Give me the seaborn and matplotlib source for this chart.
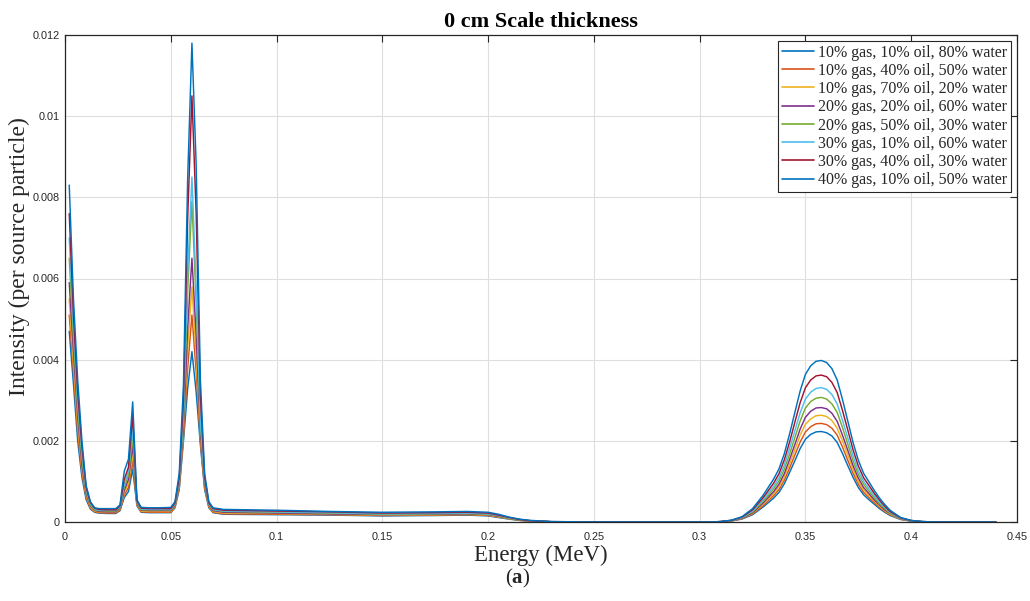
import matplotlib
matplotlib.use("Agg")
import matplotlib.pyplot as plt
import seaborn as sns
import pandas as pd

# ---------------- data (intensity values in units of 1e-4 per source particle) ----------------
UNIT = 1e-4

ENERGY = [0.002, 0.004, 0.006, 0.008, 0.010, 0.012, 0.014, 0.016, 0.020, 0.024,
          0.026, 0.028, 0.030, 0.032, 0.034, 0.036, 0.040, 0.045, 0.050,
          0.052, 0.054, 0.056, 0.058, 0.060, 0.062, 0.064, 0.066, 0.068, 0.070,
          0.075, 0.100, 0.125, 0.150, 0.175, 0.190, 0.200, 0.205, 0.210, 0.215, 0.220, 0.230, 0.250, 0.300, 0.305,
          0.310, 0.315, 0.320, 0.325, 0.330, 0.3325, 0.335, 0.3375, 0.340, 0.3425, 0.345, 0.3475,
          0.350, 0.3525, 0.355, 0.3575, 0.360, 0.3625, 0.365, 0.3675, 0.370, 0.3725, 0.375, 0.3775,
          0.380, 0.3825, 0.385, 0.3875, 0.390, 0.395, 0.400, 0.405, 0.410,
          0.420, 0.440]

LABELS = ["10% gas, 10% oil, 80% water",
          "10% gas, 40% oil, 50% water",
          "10% gas, 70% oil, 20% water",
          "20% gas, 20% oil, 60% water",
          "20% gas, 50% oil, 30% water",
          "30% gas, 10% oil, 60% water",
          "30% gas, 40% oil, 30% water",
          "40% gas, 10% oil, 50% water"]

S1 = [47, 34, 20, 11, 5.5, 3.2, 2.4, 2.2, 2.1, 2.1,
      2.8, 6.0, 7.5, 13, 4.0, 2.4, 2.3, 2.3, 2.3,
      3.5, 8, 20, 33, 42, 32, 19, 8, 3.5, 2.3,
      1.9, 1.8, 1.7, 1.5, 1.6, 1.7, 1.5, 1.1, 0.7, 0.4, 0.2, 0.05, 0.02, 0, 0,
      0.07, 0.25, 0.73, 1.8, 3.7, 4.8, 5.9, 7.3, 9.4, 12.2, 15.1, 18.1,
      20.4, 21.6, 22.2, 22.3, 22.0, 21.2, 19.6, 16.9, 13.9, 11.0, 8.5, 6.7,
      5.5, 4.4, 3.3, 2.4, 1.6, 0.62, 0.22, 0.07, 0.02,
      0, 0]
S2 = [51, 37, 22, 12, 6, 3.4, 2.5, 2.3, 2.2, 2.2,
      3.0, 6.6, 8.5, 15, 4.2, 2.5, 2.4, 2.4, 2.4,
      3.7, 8.5, 21, 38, 51, 37, 20, 8.5, 3.7, 2.4,
      2.0, 1.9, 1.8, 1.6, 1.7, 1.8, 1.6, 1.2, 0.8, 0.4, 0.2, 0.05, 0.02, 0, 0,
      0.07, 0.27, 0.8, 2.0, 4.0, 5.3, 6.5, 8.0, 10.3, 13.3, 16.5, 19.7,
      22.2, 23.5, 24.2, 24.3, 24.0, 23.1, 21.4, 18.5, 15.2, 12.0, 9.3, 7.3,
      6.0, 4.8, 3.6, 2.6, 1.8, 0.67, 0.24, 0.07, 0.02,
      0, 0]
S3 = [55, 39, 24, 13, 6.5, 3.7, 2.7, 2.5, 2.4, 2.4,
      3.2, 7.2, 9.5, 17, 4.4, 2.7, 2.6, 2.6, 2.6,
      3.9, 9, 22, 43, 58, 41, 21, 9, 3.9, 2.6,
      2.2, 2.1, 1.9, 1.7, 1.8, 1.9, 1.7, 1.3, 0.8, 0.5, 0.2, 0.06, 0.02, 0, 0,
      0.08, 0.3, 0.86, 2.2, 4.4, 5.7, 7.0, 8.7, 11.1, 14.3, 17.8, 21.4,
      24.1, 25.4, 26.2, 26.3, 26.0, 25.0, 23.1, 20.0, 16.5, 13.0, 10.0, 7.9,
      6.5, 5.2, 3.9, 2.8, 1.9, 0.73, 0.26, 0.08, 0.02,
      0, 0]
S4 = [59, 42, 26, 14, 7, 4.0, 2.9, 2.6, 2.5, 2.5,
      3.4, 7.8, 10.5, 19, 4.6, 2.9, 2.8, 2.8, 2.8,
      4.1, 9.5, 23, 48, 65, 46, 22, 9.5, 4.1, 2.8,
      2.4, 2.2, 2.0, 1.8, 1.9, 2.0, 1.8, 1.4, 0.9, 0.5, 0.3, 0.06, 0.02, 0, 0,
      0.09, 0.32, 0.9, 2.3, 4.7, 6.1, 7.5, 9.3, 11.9, 15.4, 19.1, 22.9,
      25.8, 27.3, 28.1, 28.2, 27.9, 26.8, 24.8, 21.4, 17.7, 13.9, 10.8, 8.5,
      7.0, 5.5, 4.2, 3.0, 2.1, 0.8, 0.28, 0.09, 0.02,
      0, 0]
S5 = [65, 45, 28, 15.5, 7.5, 4.2, 3.0, 2.8, 2.7, 2.7,
      3.6, 8.6, 11.5, 21, 4.8, 3.0, 3.0, 3.0, 3.0,
      4.3, 10, 25, 57, 79, 54, 24, 10, 4.3, 3.0,
      2.6, 2.4, 2.2, 1.9, 2.0, 2.1, 1.9, 1.5, 0.9, 0.5, 0.3, 0.07, 0.02, 0, 0,
      0.09, 0.35, 1.0, 2.5, 5.1, 6.6, 8.2, 10.1, 13.0, 16.7, 20.8, 24.9,
      28.1, 29.7, 30.5, 30.7, 30.3, 29.1, 27.0, 23.3, 19.2, 15.1, 11.7, 9.3,
      7.6, 6.0, 4.5, 3.3, 2.2, 0.85, 0.31, 0.09, 0.02,
      0, 0]
S6 = [70, 48, 30, 17, 8, 4.5, 3.2, 2.9, 2.9, 2.9,
      3.8, 9.4, 12.5, 23, 5.0, 3.2, 3.1, 3.1, 3.1,
      4.5, 10.5, 27, 62, 85, 58, 25, 10.5, 4.5, 3.1,
      2.7, 2.5, 2.3, 2.0, 2.1, 2.2, 2.0, 1.6, 1.0, 0.6, 0.3, 0.08, 0.02, 0, 0,
      0.1, 0.37, 1.1, 2.7, 5.5, 7.2, 8.8, 10.9, 14.0, 18.1, 22.5, 26.9,
      30.3, 32.0, 32.9, 33.1, 32.7, 31.4, 29.1, 25.1, 20.7, 16.3, 12.6, 10.0,
      8.2, 6.5, 4.9, 3.6, 2.4, 0.9, 0.33, 0.1, 0.02,
      0, 0]
S7 = [76, 51, 32, 18.5, 8.5, 4.8, 3.4, 3.1, 3.0, 3.0,
      4.0, 10.5, 13.5, 26.3, 5.2, 3.4, 3.3, 3.3, 3.3,
      4.7, 11, 30, 75, 105, 76, 31, 11, 4.7, 3.3,
      2.9, 2.7, 2.5, 2.2, 2.3, 2.4, 2.2, 1.7, 1.1, 0.6, 0.3, 0.09, 0.02, 0, 0,
      0.11, 0.41, 1.2, 3.0, 6.0, 7.8, 9.6, 11.9, 15.3, 19.7, 24.6, 29.4,
      33.1, 35.0, 36.0, 36.2, 35.8, 34.4, 31.9, 27.5, 22.7, 17.8, 13.8, 10.9,
      9.0, 7.1, 5.4, 3.9, 2.6, 1.0, 0.36, 0.11, 0.03,
      0, 0]
S8 = [83, 55, 35, 20, 9, 5.0, 3.5, 3.3, 3.3, 3.3,
      4.2, 12.5, 15.5, 29.6, 5.5, 3.6, 3.5, 3.5, 3.6,
      5.0, 12, 34, 85, 118, 88, 35, 12, 5.0, 3.5,
      3.1, 2.9, 2.6, 2.4, 2.5, 2.6, 2.4, 1.9, 1.2, 0.7, 0.4, 0.1, 0.02, 0, 0,
      0.12, 0.45, 1.3, 3.3, 6.6, 8.6, 10.6, 13.1, 16.8, 21.7, 27.0, 32.3,
      36.4, 38.5, 39.6, 39.8, 39.3, 37.8, 35.0, 30.2, 24.9, 19.6, 15.2, 12.0,
      9.9, 7.8, 5.9, 4.3, 2.9, 1.1, 0.4, 0.12, 0.03,
      0, 0]

SERIES = [S1, S2, S3, S4, S5, S6, S7, S8]
COLORS = ["#0072BD", "#D95319", "#EDB120", "#7E2F8E", "#77AC30", "#4DBEEE", "#A2142F", "#0072BD"]

X_TICKS = [0, 0.05, 0.1, 0.15, 0.2, 0.25, 0.3, 0.35, 0.4, 0.45]
X_TICK_LABELS = ["0", "0.05", "0.1", "0.15", "0.2", "0.25", "0.3", "0.35", "0.4", "0.45"]
Y_TICKS = [0, 0.002, 0.004, 0.006, 0.008, 0.01, 0.012]
Y_TICK_LABELS = ["0", "0.002", "0.004", "0.006", "0.008", "0.01", "0.012"]

# ---------------- table ----------------
rows = []
for lab, s in zip(LABELS, SERIES):
    for e, v in zip(ENERGY, s):
        rows.append({"Energy": e, "Intensity": v * UNIT, "Mixture": lab})
df = pd.DataFrame(rows)

# ---------------- plot ----------------
sns.set_style("white")
plt.rcParams["font.family"] = ["Liberation Serif", "DejaVu Serif"]
plt.rcParams["mathtext.fontset"] = "custom"
plt.rcParams["mathtext.rm"] = "Liberation Serif"
plt.rcParams["mathtext.bf"] = "Liberation Serif:bold"

fig = plt.figure(figsize=(10.30, 6.01), dpi=100)
ax = fig.add_axes([65 / 1030, 1 - 522 / 601, (1017 - 65) / 1030, (522 - 35) / 601])

sns.lineplot(data=df, x="Energy", y="Intensity", hue="Mixture", hue_order=LABELS,
             palette=COLORS, estimator=None, sort=False, linewidth=1.05, ax=ax, legend="full")

ax.set_xlim(0, 0.45)
ax.set_ylim(0, 0.012)
ax.set_xticks(X_TICKS)
ax.set_xticklabels(X_TICK_LABELS, family="Liberation Sans", fontsize=7.8, color="#262626")
ax.set_yticks(Y_TICKS)
ax.set_yticklabels(Y_TICK_LABELS, family="Liberation Sans", fontsize=7.8, color="#262626")
ax.tick_params(axis="x", direction="in", top=True, length=5, width=0.8, color="#262626", pad=7)
ax.tick_params(axis="y", direction="in", right=True, length=5, width=0.8, color="#262626", pad=4)
ax.grid(True, color="#dedede", linewidth=0.8)
for sp in ax.spines.values():
    sp.set_color("#262626")
    sp.set_linewidth(0.9)

ax.set_xlabel("Energy (MeV)", fontsize=16.5, color="#262626", labelpad=2)
ax.set_ylabel("Intensity (per source particle)", fontsize=17, color="#262626")
ax.yaxis.set_label_coords(-0.037, 0.545)
ax.set_title("0 cm Scale thickness", fontsize=16, fontweight="bold", color="black", pad=6)

handles, labels = ax.get_legend_handles_labels()
leg = ax.legend(handles, labels, loc="upper right", fontsize=11.5, frameon=True, fancybox=False,
                framealpha=1, edgecolor="#262626", borderaxespad=0.35, handlelength=2.0,
                handletextpad=0.25, labelspacing=0.14, borderpad=0.25)
leg.get_frame().set_linewidth(0.8)
for h in leg.get_lines():
    h.set_linewidth(1.2)

fig.text(0.503, 1 - 578 / 601, r"($\mathbf{a}$)", ha="center", va="center", fontsize=15,
         family="Liberation Serif")

fig.savefig("out.png", dpi=100)
